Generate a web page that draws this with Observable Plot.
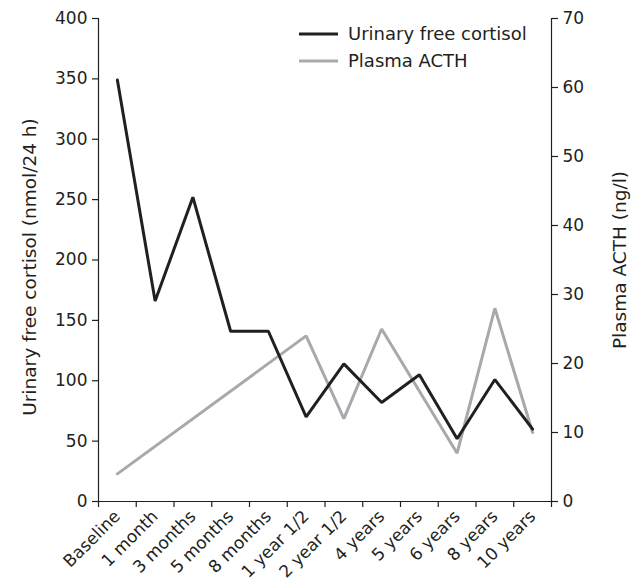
<!DOCTYPE html>
<html>
<head>
<meta charset="utf-8">
<script src="https://cdn.jsdelivr.net/npm/d3@7"></script>
<script src="https://cdn.jsdelivr.net/npm/@observablehq/plot@0.6"></script>
<style>
  body { margin: 0; background: #fff; font-family: "DejaVu Sans", sans-serif; }
  #wrap { position: relative; width: 632px; height: 588px; }
  #legend { position: absolute; left: 299px; top: 20px; font-size: 18px; color: #231f20; line-height: 27px; }
  #legend div { display: flex; align-items: center; }
  #legend svg { margin-right: 10px; }
</style>
</head>
<body>
<div id="wrap"></div>
<script>
const categories = ["Baseline", "1 month", "3 months", "5 months", "8 months", "1 year 1/2", "2 year 1/2", "4 years", "5 years", "6 years", "8 years", "10 years"];
const cortisol = [349, 166, 252, 141, 141, 70, 114, 82, 105, 52, 101, 60];
const acth = [4, null, null, null, null, 24, 12, 25, null, 7, 28, 10];
const leftTicks = [0, 50, 100, 150, 200, 250, 300, 350, 400];
const rightTicks = [0, 10, 20, 30, 40, 50, 60, 70];
const leftMax = 400, rightMax = 70;
const cortisolColor = "#231f20", acthColor = "#a7a9ac";
const font = '"DejaVu Sans", sans-serif';
const fs = 17;
const titleFs = 18.5;

const k = leftMax / rightMax;
const cortData = categories.map((c, i) => ({i, v: cortisol[i]}));
const acthData = categories.map((c, i) => ({i, v: acth[i]})).filter(d => d.v != null);
const n = categories.length;
const boundaries = d3.range(-0.5, n, 1);

const chart = Plot.plot({
  width: 632,
  height: 588,
  marginLeft: 98,
  marginRight: 81,
  marginTop: 18,
  marginBottom: 87,
  style: {fontFamily: font, fontSize: fs + "px", color: "#231f20", background: "#fff"},
  x: {domain: [-0.5, n - 0.5], axis: null},
  y: {domain: [0, leftMax], axis: null},
  marks: [
    Plot.ruleY([0], {stroke: "#231f20", strokeWidth: 1.2}),
    Plot.axisX({ticks: boundaries, tickFormat: () => "", tickSize: 6, stroke: "#231f20", strokeWidth: 1.2, label: null}),
    Plot.axisX({ticks: d3.range(n), tickFormat: i => categories[i], tickSize: 0, tickRotate: -45, tickPadding: 12, fontSize: fs, fill: "#231f20", label: null}),
    Plot.axisY({ticks: leftTicks, tickSize: 6, tickPadding: 5, fontSize: fs, fill: "#231f20", stroke: "#231f20", strokeWidth: 1.2, label: null}),
    Plot.ruleX([-0.5], {stroke: "#231f20", strokeWidth: 1.2}),
    Plot.axisY({anchor: "right", ticks: rightTicks.map(t => t * k), tickFormat: d => Math.round(d / k), tickSize: 6, tickPadding: 5, fontSize: fs, fill: "#231f20", stroke: "#231f20", strokeWidth: 1.2, label: null}),
    Plot.ruleX([n - 0.5], {stroke: "#231f20", strokeWidth: 1.2}),
    Plot.text(["Urinary free cortisol (nmol/24 h)"], {frameAnchor: "left", textAnchor: "middle", rotate: -90, dx: -68, dy: 7, fontSize: titleFs, fill: "#231f20"}),
    Plot.text(["Plasma ACTH (ng/l)"], {frameAnchor: "right", textAnchor: "middle", rotate: -90, dx: 69, fontSize: titleFs, fill: "#231f20"}),
    Plot.line(acthData, {x: "i", y: d => d.v * k, stroke: acthColor, strokeWidth: 3, strokeLinejoin: "miter"}),
    Plot.line(cortData, {x: "i", y: "v", stroke: cortisolColor, strokeWidth: 3, strokeLinejoin: "miter"})
  ]
});

const wrap = document.getElementById("wrap");
wrap.appendChild(chart);
const legend = document.createElement("div");
legend.id = "legend";
legend.innerHTML = `
  <div><svg width="39" height="4"><line x1="0" y1="2" x2="39" y2="2" stroke="${cortisolColor}" stroke-width="3"/></svg>Urinary free cortisol</div>
  <div><svg width="39" height="4"><line x1="0" y1="2" x2="39" y2="2" stroke="${acthColor}" stroke-width="3"/></svg>Plasma ACTH</div>`;
wrap.appendChild(legend);
</script>
</body>
</html>
